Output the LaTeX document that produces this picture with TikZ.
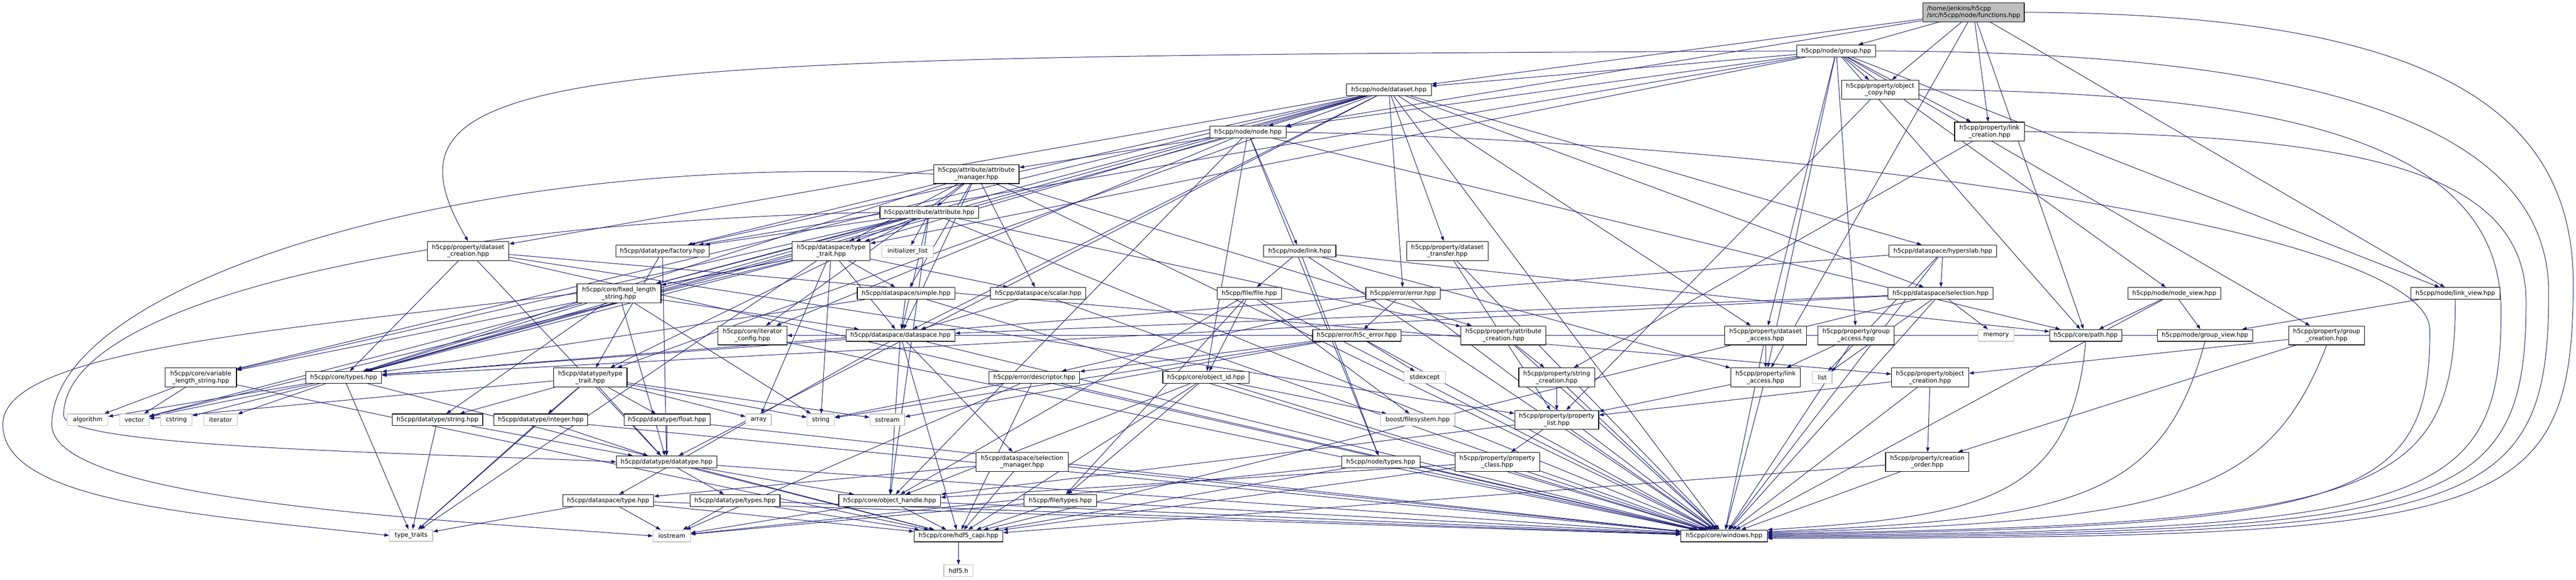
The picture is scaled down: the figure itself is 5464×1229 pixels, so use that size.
\documentclass[tikz,border=0pt]{standalone}
\usepackage{fontspec}
\setmainfont{DejaVu Sans}
\usetikzlibrary{arrows.meta}
\definecolor{eblue}{HTML}{191970}
\definecolor{gborder}{HTML}{BFBFBF}
\definecolor{gfill}{HTML}{BFBFBF}
\pgfdeclarelayer{background}
\pgfsetlayers{background,main}
\begin{document}
\begin{tikzpicture}[x=1pt,y=-1pt,
  box/.style={draw=black,line width=1.3pt,fill=white,inner sep=2pt,align=center,
    font=\fontsize{13}{15}\selectfont,minimum height=25pt},
  boxb/.style={box,minimum height=40pt},
  sys/.style={box,draw=gborder},
  e/.style={draw=eblue,line width=1.1pt,-{Triangle[length=10pt,width=7pt]}}]
\useasboundingbox (0,0) rectangle (5464,1229);
% rank 1-4
\node[boxb,fill=gfill,align=left,minimum width=215pt] (fn) at (4186,26) {/home/jenkins/h5cpp\\/src/h5cpp/node/functions.hpp};
\node[box,minimum width=167pt] (grp) at (3895,108) {h5cpp/node/group.hpp};
\node[box,minimum width=180pt] (ds) at (2946,190) {h5cpp/node/dataset.hpp};
\node[boxb,minimum width=164pt] (ocopy) at (3988,190) {h5cpp/property/object\\\_copy.hpp};
\node[boxb,minimum width=148pt] (lcreat) at (4220,279) {h5cpp/property/link\\\_creation.hpp};
\node[box,minimum width=162pt] (node) at (2647,280) {h5cpp/node/node.hpp};
\node[boxb,minimum width=181pt] (am) at (2071,369) {h5cpp/attribute/attribute\\\_manager.hpp};
\node[box,minimum width=209pt] (attr) at (1971,450) {h5cpp/attribute/attribute.hpp};
% rank 532
\node[boxb,minimum width=173pt] (dcreat) at (993,532) {h5cpp/property/dataset\\\_creation.hpp};
\node[box,minimum width=198pt] (fact) at (1405,532) {h5cpp/datatype/factory.hpp};
\node[boxb,minimum width=165pt] (dstt) at (1763,532) {h5cpp/dataspace/type\\\_trait.hpp};
\node[sys,minimum width=110pt] (initl) at (1925,533) {initializer\_list};
\node[box,minimum width=153pt] (link) at (2757,532) {h5cpp/node/link.hpp};
\node[boxb,minimum width=173pt] (dtrans) at (3070,532) {h5cpp/property/dataset\\\_transfer.hpp};
\node[box,minimum width=228pt] (hyper) at (4121,532) {h5cpp/dataspace/hyperslab.hpp};
% rank 622
\node[boxb,minimum width=178pt] (fls) at (1313,622) {h5cpp/core/fixed\_length\\\_string.hpp};
\node[box,minimum width=207pt] (simple) at (1922,622) {h5cpp/dataspace/simple.hpp};
\node[box,minimum width=202pt] (scalar) at (2202,622) {h5cpp/dataspace/scalar.hpp};
\node[box,minimum width=137pt] (file) at (2650,622) {h5cpp/file/file.hpp};
\node[box,minimum width=158pt] (err) at (2976,622) {h5cpp/error/error.hpp};
\node[box,minimum width=223pt] (sel) at (4116,622) {h5cpp/dataspace/selection.hpp};
\node[box,minimum width=197pt] (nview) at (4612,622) {h5cpp/node/node\_view.hpp};
\node[box,minimum width=189pt] (lview) at (5208,622) {h5cpp/node/link\_view.hpp};
% rank 711
\node[boxb,minimum width=146pt] (iter) at (1596,711) {h5cpp/core/iterator\\\_config.hpp};
\node[box,minimum width=231pt] (dspace) at (1910,711) {h5cpp/dataspace/dataspace.hpp};
\node[box,minimum width=187pt] (h5cerr) at (2878,711) {h5cpp/error/h5c\_error.hpp};
\node[boxb,minimum width=180pt] (acreat) at (3189,711) {h5cpp/property/attribute\\\_creation.hpp};
\node[boxb,minimum width=173pt] (daccess) at (3745,711) {h5cpp/property/dataset\\\_access.hpp};
\node[boxb,minimum width=162pt] (gaccess) at (3937,711) {h5cpp/property/group\\\_access.hpp};
\node[sys,minimum width=77pt] (memory) at (4234,711) {memory};
\node[box,minimum width=153pt] (path) at (4424,711) {h5cpp/core/path.hpp};
\node[box,minimum width=202pt] (gview) at (4677,711) {h5cpp/node/group\_view.hpp};
\node[boxb,minimum width=161pt] (gcreat) at (4935,711) {h5cpp/property/group\\\_creation.hpp};
% rank 800
\node[boxb,minimum width=151pt] (vls) at (426,800) {h5cpp/core/variable\\\_length\_string.hpp};
\node[box,minimum width=161pt] (ctypes) at (729,800) {h5cpp/core/types.hpp};
\node[boxb,minimum width=156pt] (dttt) at (1252,800) {h5cpp/datatype/type\\\_trait.hpp};
\node[box,minimum width=192pt] (desc) at (2194,800) {h5cpp/error/descriptor.hpp};
\node[box,minimum width=183pt] (oid) at (2558,800) {h5cpp/core/object\_id.hpp};
\node[sys,minimum width=87pt] (stdexc) at (3022,800) {stdexcept};
\node[boxb,minimum width=161pt] (screat) at (3302,800) {h5cpp/property/string\\\_creation.hpp};
\node[boxb,minimum width=148pt] (laccess) at (3745,800) {h5cpp/property/link\\\_access.hpp};
\node[sys,minimum width=42pt] (list) at (3865,800) {list};
\node[boxb,minimum width=164pt] (ocreat) at (4094,800) {h5cpp/property/object\\\_creation.hpp};
% rank 890
\node[sys,minimum width=86pt] (algo) at (186,890) {algorithm};
\node[sys,minimum width=62pt] (vector) at (285,890) {vector};
\node[sys,minimum width=67pt] (cstring) at (374,890) {cstring};
\node[sys,minimum width=71pt] (iterator) at (468,890) {iterator};
\node[box,minimum width=192pt] (dtstr) at (928,890) {h5cpp/datatype/string.hpp};
\node[box,minimum width=199pt] (integer) at (1147,890) {h5cpp/datatype/integer.hpp};
\node[box,minimum width=183pt] (float) at (1415,890) {h5cpp/datatype/float.hpp};
\node[sys,minimum width=54pt] (array) at (1609,890) {array};
\node[sys,minimum width=58pt] (string) at (1741,890) {string};
\node[sys,minimum width=74pt] (sstream) at (1882,890) {sstream};
\node[sys,minimum width=158pt] (boost) at (3007,890) {boost/filesystem.hpp};
\node[boxb,minimum width=178pt] (plist) at (3302,890) {h5cpp/property/property\\\_list.hpp};
% rank 979
\node[box,minimum width=213pt] (dtype) at (1414,979) {h5cpp/datatype/datatype.hpp};
\node[boxb,minimum width=196pt] (selmgr) at (2168,979) {h5cpp/dataspace/selection\\\_manager.hpp};
\node[box,minimum width=166pt] (ntypes) at (2929,979) {h5cpp/node/types.hpp};
\node[boxb,minimum width=179pt] (pclass) at (3176,979) {h5cpp/property/property\\\_class.hpp};
\node[boxb,minimum width=177pt] (corder) at (4088,979) {h5cpp/property/creation\\\_order.hpp};
% rank 1061
\node[box,minimum width=193pt] (dstype) at (1290,1061) {h5cpp/dataspace/type.hpp};
\node[box,minimum width=191pt] (dttypes) at (1559,1061) {h5cpp/datatype/types.hpp};
\node[box,minimum width=216pt] (ohandle) at (1887,1061) {h5cpp/core/object\_handle.hpp};
\node[box,minimum width=154pt] (ftypes) at (2249,1061) {h5cpp/file/types.hpp};
% rank 1136
\node[sys,minimum width=92pt] (ttraits) at (872,1135) {type\_traits};
\node[sys,minimum width=79pt] (iostream) at (1425,1136) {iostream};
\node[box,minimum width=188pt] (capi) at (2033,1136) {h5cpp/core/hdf5\_capi.hpp};
\node[box,minimum width=183pt] (win) at (3657,1136) {h5cpp/core/windows.hpp};
\node[sys,minimum width=62pt] (hdf5h) at (2033,1210) {hdf5.h};
% helper coordinates
\coordinate (r1) at (5458,600);
\coordinate (r2) at (5406,620);
\coordinate (r3) at (5358,640);
\coordinate (r4) at (5305,660);
\coordinate (r5) at (5154,700);
\coordinate (l1) at (6,900);
\coordinate (l2) at (110,900);
\coordinate (l3) at (135,880);
\begin{pgfonlayer}{background}
\foreach \s/\t in {fn/grp,fn/ds,fn/node,fn/ocopy,fn/lcreat,fn/path,fn/lview,fn/laccess,
  grp/node,grp/ds,grp/ocopy,grp/lcreat,grp/gcreat,grp/gaccess,grp/daccess,grp/laccess,grp/nview,grp/lview,grp/path,grp/fact,grp/dstt,
  ds/node,ds/dcreat,ds/daccess,ds/dtrans,ds/dspace,ds/dtype,ds/hyper,ds/err,ds/vls,ds/fls,ds/fact,ds/dstt,ds/dttt,ds/ctypes,ds/sel,ds/win,
  ocopy/plist,lcreat/screat,
  node/am,node/link,node/oid,node/ohandle,node/ntypes,node/path,node/iter,node/ctypes,
  am/attr,am/fact,am/simple,am/scalar,am/acreat,am/ctypes,am/iter,am/dstt,am/dspace,am/win,
  attr/fact,attr/fls,attr/dstt,attr/initl,attr/dspace,attr/dttt,attr/vls,attr/ctypes,attr/ohandle,attr/acreat,attr/win,
  dcreat/plist,dcreat/ocreat,dcreat/ctypes,dcreat/win,dcreat/dtype,
  fact/dttt,fact/dtype,
  dstt/simple,dstt/scalar,dstt/dspace,dstt/ctypes,dstt/vector,dstt/array,dstt/string,dstt/fls,dstt/vls,dstt/ttraits,
  link/file,link/path,link/laccess,link/win,link/ntypes,
  dtrans/plist,dtrans/win,
  hyper/sel,hyper/ctypes,hyper/win,hyper/list,
  fls/string,fls/dspace,fls/vector,fls/ctypes,fls/dtstr,fls/dtype,
  simple/dspace,simple/ctypes,simple/win,scalar/dspace,scalar/win,
  file/oid,file/ftypes,file/boost,file/win,file/ohandle,
  err/h5cerr,err/desc,err/win,
  sel/dspace,sel/memory,sel/list,sel/ctypes,sel/win,sel/capi,
  nview/path,nview/gview,nview/win,lview/gview,
  iter/win,
  dspace/ohandle,dspace/ctypes,dspace/selmgr,dspace/capi,dspace/win,dspace/dstype,
  h5cerr/stdexc,h5cerr/desc,h5cerr/win,h5cerr/sstream,h5cerr/string,
  acreat/screat,acreat/win,daccess/laccess,daccess/win,gaccess/laccess,gaccess/win,
  gview/iter,gcreat/ocreat,gcreat/corder,
  vls/algo,vls/vector,vls/capi,
  ctypes/algo,ctypes/vector,ctypes/cstring,ctypes/iterator,ctypes/ttraits,ctypes/capi,
  dttt/integer,dttt/float,dttt/dtype,dttt/dtstr,dttt/array,dttt/string,dttt/vector,dttt/ttraits,dttt/sstream,
  desc/iostream,desc/win,desc/string,desc/capi,
  oid/boost,oid/ohandle,oid/capi,oid/win,oid/ftypes,
  screat/plist,screat/win,laccess/plist,laccess/win,
  ocreat/plist,ocreat/corder,ocreat/win,
  dtstr/dtype,dtstr/ttraits,integer/dtype,integer/ttraits,integer/win,float/dtype,float/win,
  plist/pclass,plist/ohandle,plist/win,
  dtype/ohandle,dtype/dttypes,dtype/capi,dtype/win,
  selmgr/dstype,selmgr/win,selmgr/capi,
  ntypes/iostream,ntypes/capi,ntypes/win,
  pclass/ohandle,pclass/capi,pclass/win,
  corder/win,corder/capi,
  dstype/ttraits,dstype/iostream,dstype/capi,dstype/win,
  dttypes/iostream,dttypes/capi,dttypes/win,
  ohandle/capi,ohandle/win,ohandle/iostream,
  ftypes/iostream,ftypes/capi,ftypes/win,
  capi/hdf5h}
  \draw[e] (\s) -- (\t);
% long wrap-around edges on the right
\draw[e] (fn.east) .. controls (5100,30) and (5458,200) .. (r1) .. controls (5458,1110) and (5300,1140) .. ([yshift=-5pt]win.east);
\draw[e] (grp.east) .. controls (4900,110) and (5406,260) .. (r2) .. controls (5406,1095) and (5250,1135) .. ([yshift=-3pt]win.east);
\draw[e] (lcreat.east) .. controls (5000,285) and (5358,360) .. (r3) .. controls (5358,1085) and (5200,1130) .. ([yshift=-1pt]win.east);
\draw[e] (ocopy.east) .. controls (4900,195) and (5305,320) .. (r4) .. controls (5305,1075) and (5150,1125) .. ([yshift=1pt]win.east);
\draw[e] (node.east) .. controls (3800,300) and (5154,480) .. (r5) .. controls (5154,1060) and (5000,1118) .. ([yshift=3pt]win.east);
\draw[e] (lview.south) .. controls (5208,1050) and (5050,1112) .. ([yshift=5pt]win.east);
\draw[e] (gcreat.south) .. controls (4810,1060) and (4600,1105) .. ([yshift=7pt]win.east);
\draw[e] (gview.south) .. controls (4586,1060) and (4400,1100) .. ([yshift=9pt]win.east);
\draw[e] (path.south) .. controls (4394,1060) and (4200,1095) .. (win.north east);
\draw[e] (grp.west) .. controls (1200,120) and (770,130) .. (dcreat.north);
% long wrap-around edges on the left
\draw[e] (fls.west) .. controls (600,700) and (6,740) .. (l1) .. controls (6,1060) and (400,1090) .. (ttraits.west);
\draw[e] (am.west) .. controls (1000,320) and (110,600) .. (l2) .. controls (110,1060) and (900,1100) .. (iostream.west);
\draw[e] (attr.west) .. controls (900,470) and (135,640) .. (l3) .. controls (135,950) and (900,960) .. (dtype.west);
\end{pgfonlayer}
\end{tikzpicture}
\end{document}
